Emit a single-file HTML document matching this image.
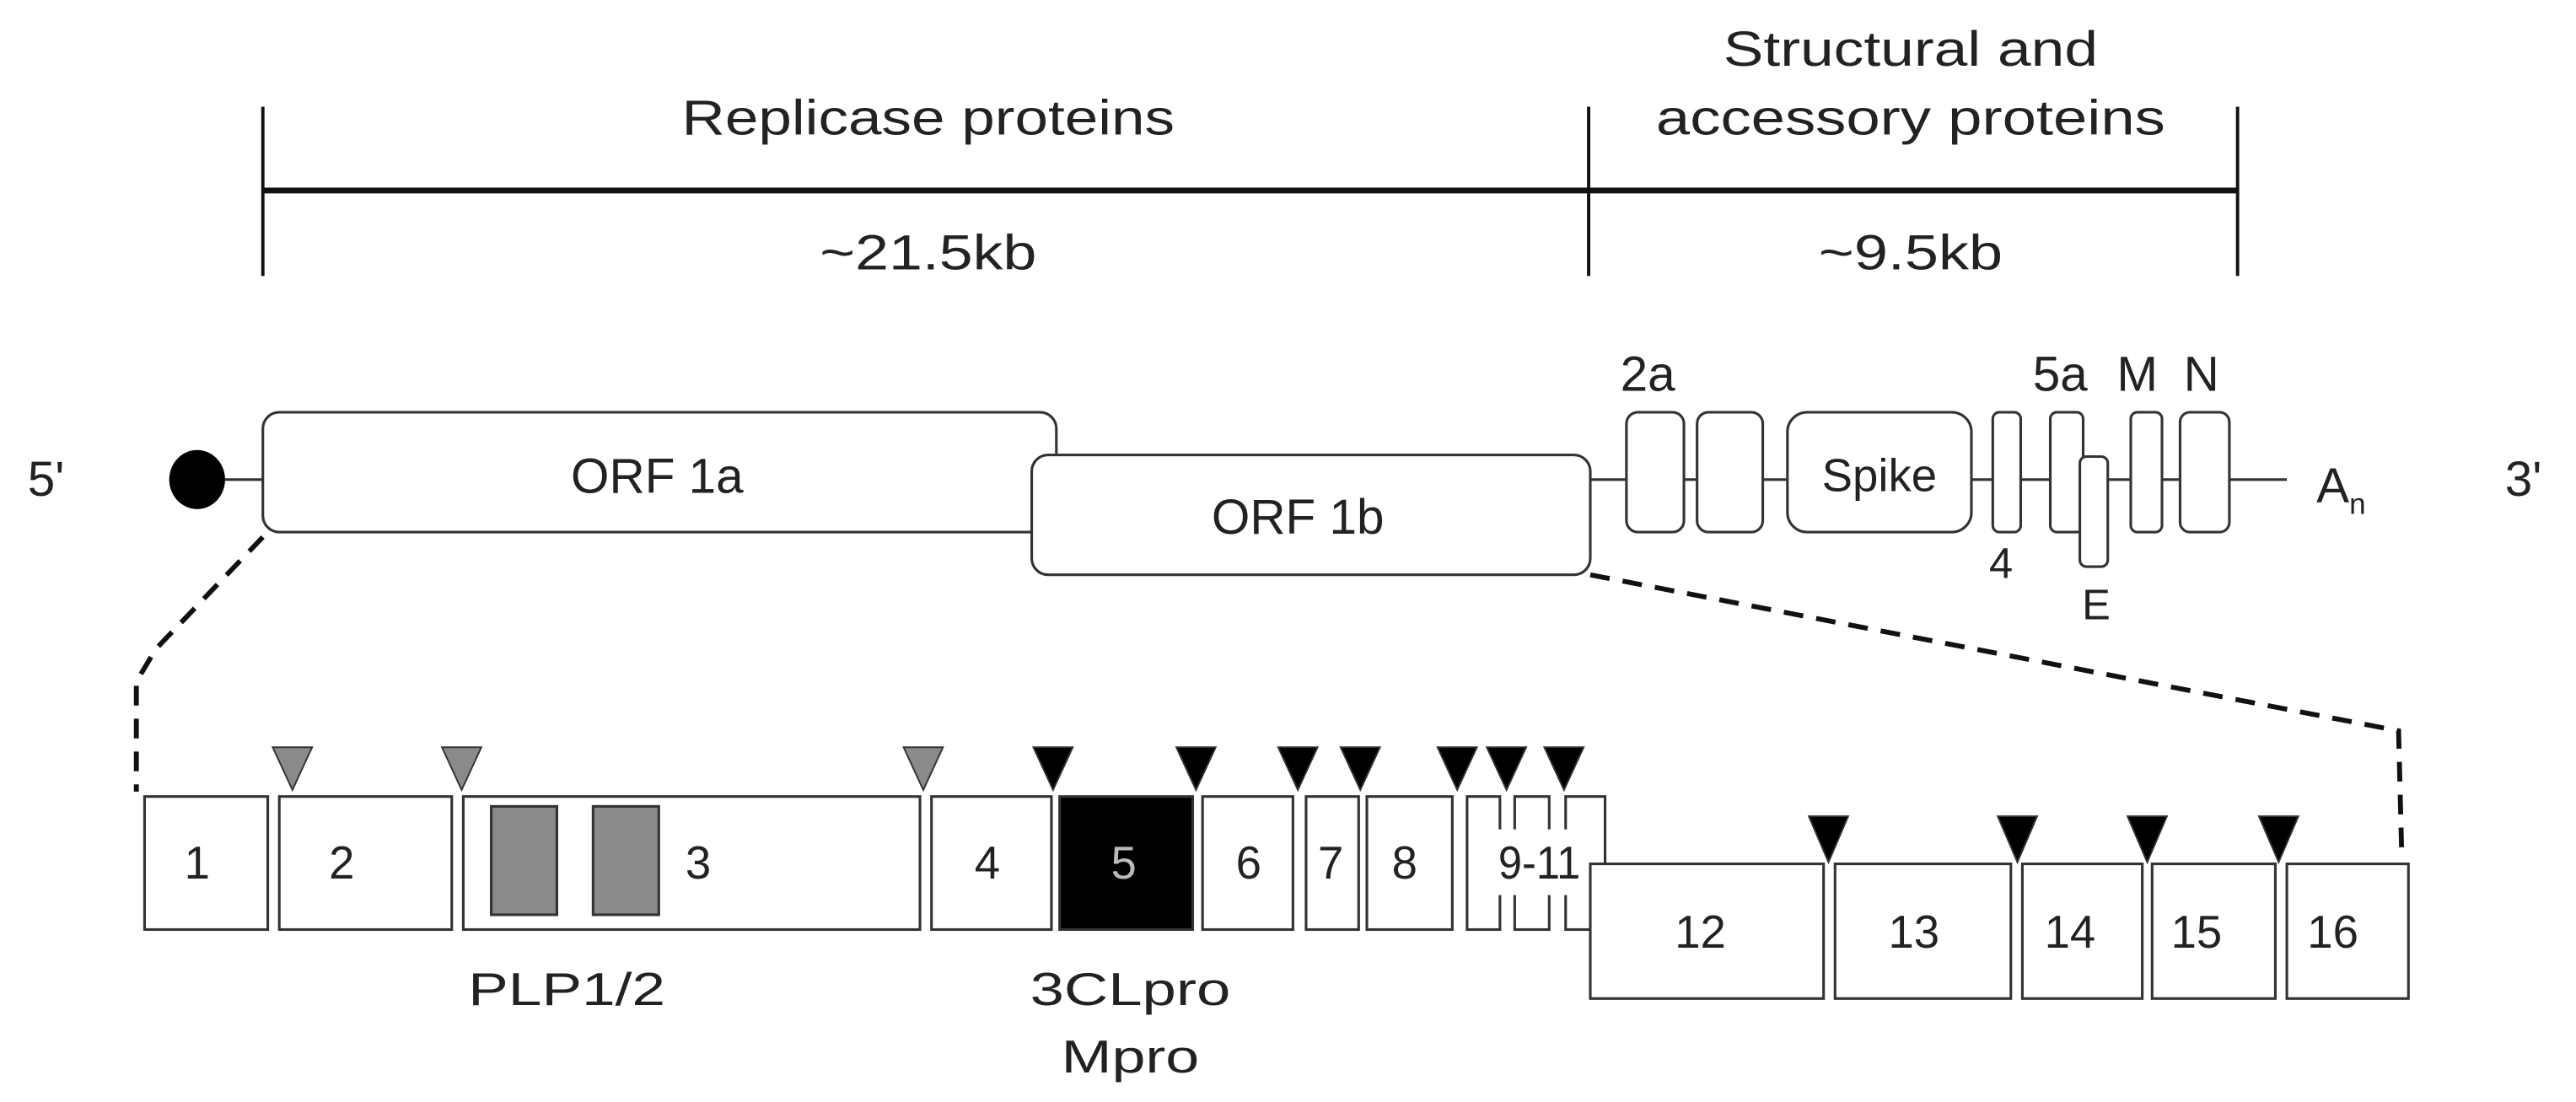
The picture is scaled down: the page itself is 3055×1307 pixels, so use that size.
<!DOCTYPE html>
<html><head><meta charset="utf-8"><style>
html,body{margin:0;padding:0;background:#fff;}
svg{display:block;}
text{font-family:"Liberation Sans",Arial,sans-serif;fill:#222;}
</style></head><body>
<svg width="3055" height="1307" viewBox="0 0 1568 671" preserveAspectRatio="none" xmlns="http://www.w3.org/2000/svg">
<g stroke="#111" fill="none">
<line x1="160" y1="116" x2="1362" y2="116" stroke-width="3.5"/>
<line x1="160" y1="65" x2="160" y2="168" stroke-width="2"/>
<line x1="967" y1="65" x2="967" y2="168" stroke-width="2"/>
<line x1="1362" y1="65" x2="1362" y2="168" stroke-width="2"/>
</g>
<g font-size="30" text-anchor="middle">
<text x="565" y="82" textLength="300" lengthAdjust="spacingAndGlyphs">Replicase proteins</text>
<text x="1163" y="40" textLength="228" lengthAdjust="spacingAndGlyphs">Structural and</text>
<text x="1163" y="82" textLength="310" lengthAdjust="spacingAndGlyphs">accessory proteins</text>
<text x="565" y="164" textLength="132" lengthAdjust="spacingAndGlyphs">~21.5kb</text>
<text x="1163" y="164" textLength="112" lengthAdjust="spacingAndGlyphs">~9.5kb</text>
</g>
<!-- genome -->
<g stroke="#333" stroke-width="1.6" fill="#fff">
<line x1="137" y1="292" x2="160" y2="292"/>
<line x1="968" y1="292" x2="1392" y2="292"/>
<rect x="160" y="251" width="483" height="73" rx="10"/>
<rect x="628" y="277" width="340" height="73" rx="10"/>
<rect x="990" y="251" width="35" height="73" rx="7"/>
<rect x="1033" y="251" width="40" height="73" rx="7"/>
<rect x="1088" y="251" width="112" height="73" rx="12"/>
<rect x="1213" y="251" width="17" height="73" rx="4"/>
<rect x="1248" y="251" width="20" height="73" rx="4"/>
<rect x="1266" y="278" width="17" height="67" rx="4"/>
<rect x="1297" y="251" width="19" height="73" rx="4"/>
<rect x="1327" y="251" width="30" height="73" rx="6"/>
</g>
<ellipse cx="120" cy="292" rx="17" ry="18" fill="#000"/>
<g font-size="30" text-anchor="middle">
<text x="400" y="300">ORF 1a</text>
<text x="790" y="325">ORF 1b</text>
<text x="1144" y="299" font-size="28">Spike</text>
<text x="1003" y="238">2a</text>
<text x="1254" y="238">5a</text>
<text x="1301" y="238">M</text>
<text x="1340" y="238">N</text>
<text x="1218" y="352" font-size="26">4</text>
<text x="1276" y="377" font-size="26">E</text>
<text x="28" y="302">5'</text>
<text x="1536" y="302">3'</text>
<text x="1425" y="306">A<tspan font-size="18" dy="7">n</tspan></text>
</g>
<!-- dashed zoom lines -->
<g stroke="#111" stroke-width="3" fill="none" stroke-dasharray="12 8">
<polyline points="160,327 95,395 83,415 83,482"/>
<polyline points="968,350 1460,445 1462,523"/>
</g>
<!-- row 1 boxes -->
<g stroke="#333" stroke-width="1.6" fill="#fff">
<rect x="88" y="485" width="75" height="81"/>
<rect x="170" y="485" width="105" height="81"/>
<rect x="282" y="485" width="278" height="81"/>
<rect x="567" y="485" width="73" height="81"/>
<rect x="645" y="485" width="81" height="81" fill="#000"/>
<rect x="732" y="485" width="55" height="81"/>
<rect x="795" y="485" width="32" height="81"/>
<rect x="832" y="485" width="52" height="81"/>
<rect x="893" y="485" width="20" height="81"/>
<rect x="922" y="485" width="21" height="81"/>
<rect x="953" y="485" width="24" height="81"/>
<rect x="299" y="491" width="40" height="66" fill="#8a8a8a"/>
<rect x="361" y="491" width="40" height="66" fill="#8a8a8a"/>
<!-- row 2 -->
<rect x="968" y="526" width="142" height="82"/>
<rect x="1117" y="526" width="107" height="82"/>
<rect x="1231" y="526" width="73" height="82"/>
<rect x="1310" y="526" width="75" height="82"/>
<rect x="1392" y="526" width="74" height="82"/>
</g>
<rect x="910" y="505" width="50" height="40" fill="#fff"/>
<!-- triangles -->
<g stroke="#333" stroke-width="1">
<g fill="#8a8a8a">
<polygon points="166,455 190,455 178,481"/>
<polygon points="269,455 293,455 281,481"/>
<polygon points="550,455 574,455 562,481"/>
</g>
<g fill="#000">
<polygon points="629,455 653,455 641,481"/>
<polygon points="716,455 740,455 728,481"/>
<polygon points="778,455 802,455 790,481"/>
<polygon points="816,455 840,455 828,481"/>
<polygon points="875,455 899,455 887,481"/>
<polygon points="905,455 929,455 917,481"/>
<polygon points="940,455 964,455 952,481"/>
<polygon points="1101,497 1125,497 1113,525"/>
<polygon points="1216,497 1240,497 1228,525"/>
<polygon points="1295,497 1319,497 1307,525"/>
<polygon points="1375,497 1399,497 1387,525"/>
</g>
</g>
<g font-size="28" text-anchor="middle">
<text x="120" y="535">1</text>
<text x="208" y="535">2</text>
<text x="425" y="535">3</text>
<text x="601" y="535">4</text>
<text x="684" y="535" style="fill:#bbb">5</text>
<text x="760" y="535">6</text>
<text x="810" y="535">7</text>
<text x="855" y="535">8</text>
<text x="937" y="535" textLength="50" lengthAdjust="spacingAndGlyphs">9-11</text>
<text x="1035" y="577">12</text>
<text x="1165" y="577">13</text>
<text x="1260" y="577">14</text>
<text x="1337" y="577">15</text>
<text x="1420" y="577">16</text>
<text x="345" y="612" textLength="120" lengthAdjust="spacingAndGlyphs">PLP1/2</text>
<text x="688" y="612" textLength="122" lengthAdjust="spacingAndGlyphs">3CLpro</text>
<text x="688" y="653" textLength="84" lengthAdjust="spacingAndGlyphs">Mpro</text>
</g>
</svg>
</body></html>
